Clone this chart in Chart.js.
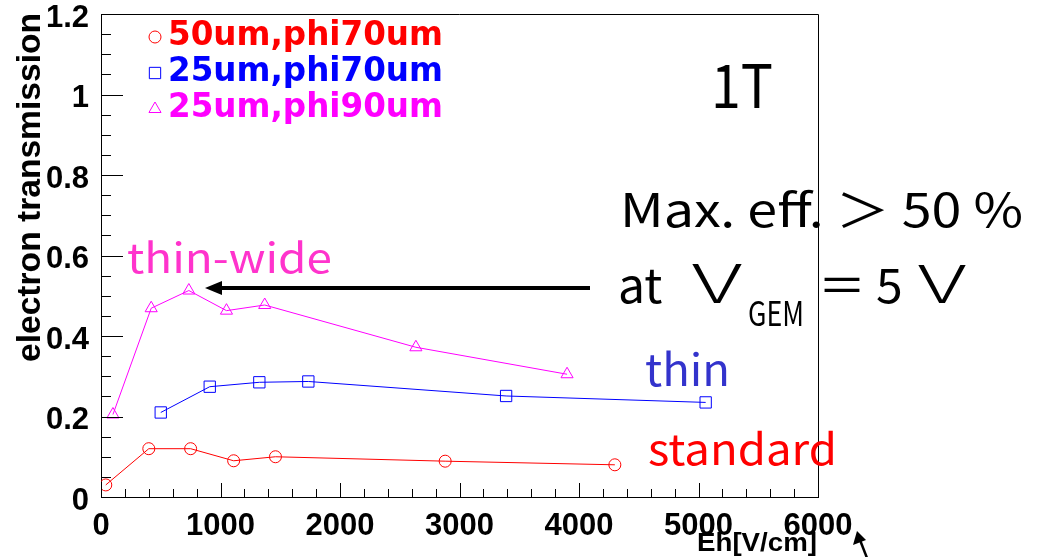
<!DOCTYPE html>
<html>
<head>
<meta charset="utf-8">
<script src="https://cdn.jsdelivr.net/npm/chart.js@4.4.0/dist/chart.umd.min.js"></script>
<style>
  body { margin: 0; background: #fff; }
  canvas { display: block; }
</style>
</head>
<body>
<canvas id="chart" width="1042" height="557"></canvas>
<script>
// data
const seriesLabels = ['50um,phi70um', '25um,phi70um', '25um,phi90um'];
const xStandard = [40, 400, 750, 1110, 1460, 2880, 4300];
const yStandard = [0.03, 0.12, 0.12, 0.09, 0.10, 0.089, 0.08];
const xThin = [500, 910, 1325, 1735, 3390, 5060];
const yThin = [0.21, 0.274, 0.285, 0.287, 0.251, 0.235];
const xThinWide = [100, 420, 735, 1050, 1370, 2635, 3900];
const yThinWide = [0.205, 0.469, 0.513, 0.463, 0.477, 0.372, 0.305];
const yMajorLabels = ['0', '0.2', '0.4', '0.6', '0.8', '1', '1.2'];
const xMajorLabels = ['0', '1000', '2000', '3000', '4000', '5000', '6000'];

function toPoints(xs, ys) {
    return xs.map((x, i) => ({ x: x, y: ys[i] }));
}

const colors = ['#ff0000', '#0000ff', '#ff00ff'];
const styles = ['circle', 'rect', 'triangle'];
const radii = [6, 8, 7];

// write text squeezed/stretched to a given width (natural width if none)
function fitText(ctx, text, x, y, width, font, color) {
    ctx.save();
    ctx.font = font;
    ctx.fillStyle = color;
    ctx.textBaseline = 'alphabetic';
    ctx.textAlign = 'left';
    const w = ctx.measureText(text).width;
    ctx.translate(x, y);
    if (width) ctx.scale(width / w, 1);
    ctx.fillText(text, 0, 0);
    ctx.restore();
}

function marker(ctx, style, r, x, y, color) {
    ctx.save();
    ctx.strokeStyle = color;
    ctx.fillStyle = 'rgba(0,0,0,0)';
    ctx.lineWidth = 1;
    Chart.helpers.drawPoint(ctx, { pointStyle: style, radius: r, rotation: 0, borderWidth: 1 }, x, y);
    ctx.restore();
}

// ROOT-like frame: inside ticks, top/right border, titles, legend, notes
const rootFrame = {
    id: 'rootFrame',
    afterDraw(chart) {
        const ctx = chart.ctx;
        const a = chart.chartArea;
        const xs = chart.scales.x, ys = chart.scales.y;
        ctx.save();
        ctx.strokeStyle = '#000';
        ctx.lineWidth = 1;
        ctx.beginPath();
        ctx.moveTo(a.left, a.top + 0.5);
        ctx.lineTo(a.right + 0.5, a.top + 0.5);
        ctx.lineTo(a.right + 0.5, a.bottom);
        ctx.stroke();
        ctx.beginPath();
        ys.ticks.forEach(t => {
            const p = Math.round(ys.getPixelForValue(t.value)) + 0.5;
            const len = t.label ? 22 : 10;
            ctx.moveTo(a.left, p);
            ctx.lineTo(a.left + len, p);
        });
        xs.ticks.forEach(t => {
            const p = Math.round(xs.getPixelForValue(t.value)) + 0.5;
            const len = t.label ? 14 : 8;
            ctx.moveTo(p, a.bottom);
            ctx.lineTo(p, a.bottom - len);
        });
        ctx.stroke();
        ctx.restore();

        // axis titles
        ctx.save();
        ctx.translate(40, 13);
        ctx.rotate(-Math.PI / 2);
        ctx.font = "bold 33px 'Liberation Sans'";
        const tw = ctx.measureText('electron transmission').width;
        ctx.scale(349 / tw, 1);
        ctx.fillStyle = '#000';
        ctx.textAlign = 'right';
        ctx.fillText('electron transmission', 0, 0);
        ctx.restore();
        fitText(ctx, 'Eh[V/cm]', 697, 551, 120, "bold 25px 'Liberation Sans'", '#000');

        // legend
        const rows = [45, 81, 117];
        seriesLabels.forEach((lab, i) => {
            marker(ctx, styles[i], radii[i], 155, rows[i] - 8, colors[i]);
            fitText(ctx, lab, 168, rows[i], 275, "bold 33px 'DejaVu Sans'", colors[i]);
        });

        // notes
        const jp = "'Noto Sans CJK JP'";
        const big = '48px ' + jp;
        fitText(ctx, '1T', 711, 108, 62, '60px ' + jp, '#000');
        fitText(ctx, 'thin-wide', 127, 273, 205, '41px ' + jp, '#ff33cc');
        fitText(ctx, 'thin', 645, 386, 85, '44px ' + jp, '#3333cc');
        fitText(ctx, 'standard', 648, 465, 189, '43px ' + jp, '#ff0000');
        fitText(ctx, 'Max. eff. \uFF1E 50 %', 620, 227, 403, '46px ' + jp, '#000');
        fitText(ctx, 'at', 618, 303, 0, big, '#000');
        fitText(ctx, 'V', 692, 303, 50, '300 54px ' + jp, '#000');
        fitText(ctx, 'GEM', 748, 326, 56, '34px ' + jp, '#000');
        fitText(ctx, '\uFF1D', 818, 303, 48, big, '#000');
        fitText(ctx, '5', 876, 303, 0, big, '#000');
        fitText(ctx, 'V', 918, 303, 48, '300 52px ' + jp, '#000');

        // arrow to the thin-wide maximum
        ctx.save();
        ctx.strokeStyle = '#000';
        ctx.fillStyle = '#000';
        ctx.lineWidth = 4;
        ctx.beginPath();
        ctx.moveTo(590, 288);
        ctx.lineTo(218, 288);
        ctx.stroke();
        ctx.beginPath();
        ctx.moveTo(205, 288);
        ctx.lineTo(222, 281);
        ctx.lineTo(222, 295);
        ctx.closePath();
        ctx.fill();
        // small pointer arrow bottom right
        ctx.lineWidth = 2.5;
        ctx.beginPath();
        ctx.moveTo(867, 558);
        ctx.lineTo(860, 540);
        ctx.stroke();
        ctx.beginPath();
        ctx.moveTo(857, 531);
        ctx.lineTo(853, 545);
        ctx.lineTo(866, 540);
        ctx.closePath();
        ctx.fill();
        ctx.restore();
    }
};

const datasets = [
    toPoints(xStandard, yStandard),
    toPoints(xThin, yThin),
    toPoints(xThinWide, yThinWide)
].map((pts, i) => ({
    label: seriesLabels[i],
    data: pts,
    showLine: true,
    borderColor: colors[i],
    borderWidth: 1,
    tension: 0,
    pointStyle: styles[i],
    pointRadius: radii[i],
    pointBorderColor: colors[i],
    pointBackgroundColor: 'rgba(0,0,0,0)',
    pointBorderWidth: 1
}));

const tickFont = { family: 'Liberation Sans', size: 31, weight: 'bold', lineHeight: 1.2 };

new Chart(document.getElementById('chart').getContext('2d'), {
    type: 'line',
    data: { datasets: datasets },
    options: {
        responsive: false,
        devicePixelRatio: 1,
        animation: false,
        layout: { padding: { top: 14, right: 224, left: 0, bottom: 0 } },
        plugins: { legend: { display: false }, tooltip: { enabled: false } },
        scales: {
            x: {
                type: 'linear',
                min: 0,
                max: 6000,
                grid: { display: false },
                border: { display: true, color: '#000', width: 1 },
                ticks: {
                    stepSize: 200,
                    autoSkip: false,
                    maxRotation: 0,
                    padding: 3,
                    color: '#000',
                    font: tickFont,
                    callback: v => (Math.round(v) % 1000 === 0 ? xMajorLabels[Math.round(v) / 1000] : '')
                },
                afterFit(s) { s.height = 60; s.paddingLeft = 0; s.paddingRight = 0; }
            },
            y: {
                min: 0,
                max: 1.2,
                grid: { display: false },
                border: { display: true, color: '#000', width: 1 },
                ticks: {
                    stepSize: 0.05,
                    autoSkip: false,
                    padding: 4,
                    labelOffset: 4,
                    color: '#000',
                    font: tickFont,
                    callback: v => {
                        const k = Math.round(v * 100);
                        return k % 20 === 0 ? yMajorLabels[k / 20] : '';
                    }
                },
                afterFit(s) { s.width = 101; s.paddingTop = 0; s.paddingBottom = 0; }
            }
        }
    },
    plugins: [rootFrame]
});
</script>
</body>
</html>
